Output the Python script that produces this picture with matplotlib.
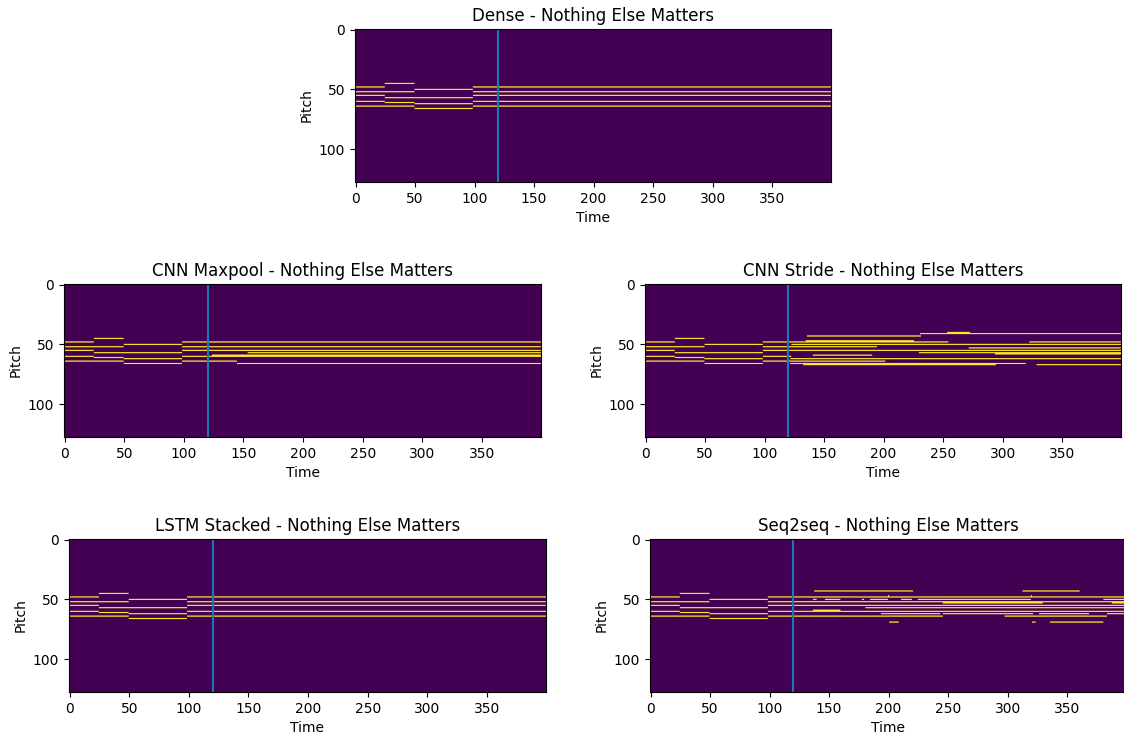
import numpy as np
import matplotlib
matplotlib.use("Agg")
import matplotlib.pyplot as plt

N_PITCH = 128
N_TIME = 400
SEED_END = 120

song = "Nothing Else Matters"
models = ["Dense", "CNN Maxpool", "CNN Stride", "LSTM Stacked", "Seq2seq"]

# (pitch, start, end) notes of the seed part (identical for all models)
seed_notes = [
    (48, 0, 25), (52, 0, 50), (55, 0, 25), (60, 0, 25), (64, 0, 50),
    (45, 25, 50), (57, 25, 99), (61, 25, 50),
    (50, 50, 99), (62, 50, 99), (66, 50, 99),
    (48, 99, 120), (52, 99, 120), (55, 99, 120), (60, 99, 120), (64, 99, 120),
]

dense_notes = [(48, 120, 400), (52, 120, 400), (55, 120, 400), (60, 120, 400), (64, 120, 400)]

maxpool_notes = [(48, 120, 400), (52, 120, 400), (55, 120, 400), (57, 154, 400),
                 (59, 124, 400), (60, 120, 400), (64, 120, 145), (66, 145, 400)]

stride_notes = [(40, 254, 273), (41, 231, 400), (43, 136, 232), (47, 135, 226),
                (48, 120, 255), (48, 323, 400), (50, 123, 400), (52, 120, 195),
                (53, 272, 400), (55, 120, 400), (57, 230, 400), (58, 294, 400),
                (59, 141, 191), (60, 120, 123), (62, 122, 400), (64, 120, 202),
                (66, 122, 320), (67, 133, 295), (67, 329, 400)]

lstm_notes = [(48, 120, 400), (52, 120, 400), (55, 120, 400), (60, 120, 400), (64, 120, 400)]

seq2seq_notes = [(43, 138, 221), (43, 313, 361), (47, 200, 201), (47, 320, 321),
                 (48, 120, 400), (50, 137, 140), (50, 147, 160), (50, 178, 180),
                 (50, 185, 200), (50, 211, 220), (50, 225, 320), (50, 381, 400),
                 (52, 120, 400), (53, 246, 330), (53, 388, 400), (55, 120, 400),
                 (57, 181, 400), (59, 137, 160), (60, 120, 400), (62, 194, 244),
                 (62, 246, 322), (62, 327, 369), (62, 384, 400), (64, 120, 246),
                 (64, 298, 384), (69, 201, 209), (69, 321, 324), (69, 336, 381)]

generated = [dense_notes, maxpool_notes, stride_notes, lstm_notes, seq2seq_notes]


def build_roll(notes):
    roll = np.zeros((N_PITCH, N_TIME))
    for p, s, e in seed_notes + notes:
        roll[p, s:e] = 1.0
    return roll


W, H = 1124, 738
fig = plt.figure(figsize=(W / 100, H / 100), dpi=100)

# axes boxes in pixels: left, top, width, height
boxes = [
    (355, 29, 476, 153),
    (64, 284, 477, 153),
    (645, 284, 476, 153),
    (69, 539, 477, 153),
    (650, 539, 476, 153),
]

for name, notes, (l, t, w, h) in zip(models, generated, boxes):
    ax = fig.add_axes([l / W, (H - t - h) / H, w / W, h / H])
    ax.imshow(build_roll(notes), aspect="auto", cmap="viridis", vmin=0, vmax=1)
    ax.axvline(SEED_END, color="#1f77b4", linewidth=1.5)
    ax.set_title(f"{name} - {song}", fontsize=12)
    ax.set_xlabel("Time")
    ax.set_ylabel("Pitch")
    ax.set_xticks(np.arange(0, 400, 50))
    ax.set_yticks([0, 50, 100])

fig.savefig("out.png", dpi=100)
